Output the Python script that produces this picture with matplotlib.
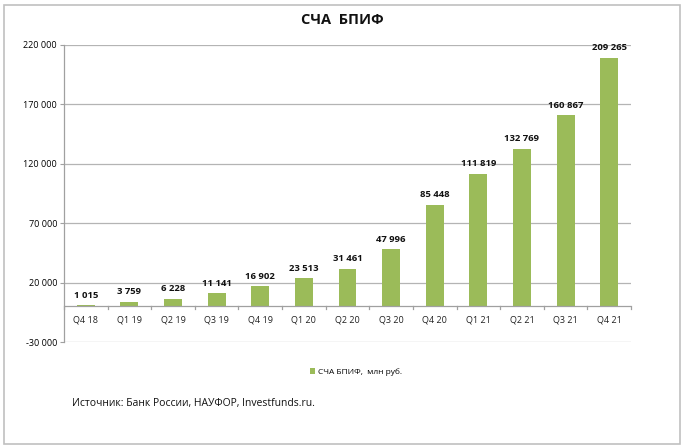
import matplotlib
matplotlib.use("Agg")
import matplotlib.pyplot as plt
import matplotlib.transforms as mtransforms
from matplotlib.patches import Rectangle, Patch

categories = ["Q4 18", "Q1 19", "Q2 19", "Q3 19", "Q4 19", "Q1 20", "Q2 20",
              "Q3 20", "Q4 20", "Q1 21", "Q2 21", "Q3 21", "Q4 21"]
values = [1015, 3759, 6228, 11141, 16902, 23513, 31461, 47996, 85448,
          111819, 132769, 160867, 209265]
yticks = [-30000, 20000, 70000, 120000, 170000, 220000]

plt.rcParams['font.family'] = ['Open Sans', 'DejaVu Sans']

def fmt(v):
    return f"{v:,}".replace(",", " ")

fig = plt.figure(figsize=(6.84, 4.48), dpi=100)
ax = fig.add_axes([64/684, 1-342/448, (631-64)/684, (342-45)/448])

x = list(range(len(categories)))
ax.bar(x, values, width=0.41, color="#9BBB59", zorder=3)

ax.set_xlim(-0.5, len(categories)-0.5)
ax.set_ylim(-30000, 220000)
ax.set_yticks(yticks)
ax.set_yticklabels([fmt(v) for v in yticks], fontsize=6.5)
ax.tick_params(axis='y', length=3, color="#A0A0A0", pad=2)
ax.set_xticks([])
ax.grid(axis='y', color="#B4B4B4", linewidth=0.9, zorder=0)
for s in ["top", "right", "bottom"]:
    ax.spines[s].set_visible(False)
ax.spines["left"].set_color("#A0A0A0")
ax.spines["left"].set_linewidth(0.9)

# zero axis and category ticks
ax.axhline(0, color="#A0A0A0", linewidth=0.9, zorder=4)
for i in range(len(categories)+1):
    xi = i - 0.5
    ax.plot([xi, xi], [0, -2500], color="#A0A0A0", linewidth=0.9, zorder=4, clip_on=False)

off_down = mtransforms.offset_copy(ax.transData, fig=fig, x=0, y=-9.5, units='points')
off_up = mtransforms.offset_copy(ax.transData, fig=fig, x=0, y=4, units='points')
for i, (c, v) in enumerate(zip(categories, values)):
    ax.text(i, 0, c, transform=off_down, ha='center', va='center', fontsize=6.5, color="#222222")
    ax.text(i, v, fmt(v), transform=off_up, ha='center', va='bottom', fontsize=6.8,
            fontweight='bold', color="#111111")

fig.text(342/684, 1-20/448, "СЧА  БПИФ", ha='center', va='center', fontsize=10.5,
         fontweight='bold', color="#111111")

handle = Patch(facecolor="#9BBB59", edgecolor="none")
fig.legend([handle], ["СЧА БПИФ,  млн руб."], loc='center', bbox_to_anchor=(356/684, 1-372/448),
           frameon=False, fontsize=6, handlelength=0.6, handleheight=0.6, handletextpad=0.4)

fig.text(72/684, 1-403/448, "Источник: Банк России, НАУФОР, Investfunds.ru.", ha='left',
         va='center', fontsize=7.5, color="#111111")

fig.patches.append(Rectangle((4/684, 4/448), 676/684, 439/448, transform=fig.transFigure,
                             fill=False, edgecolor="#C0C0C0", linewidth=1.2))

fig.savefig("out.png", dpi=100)
